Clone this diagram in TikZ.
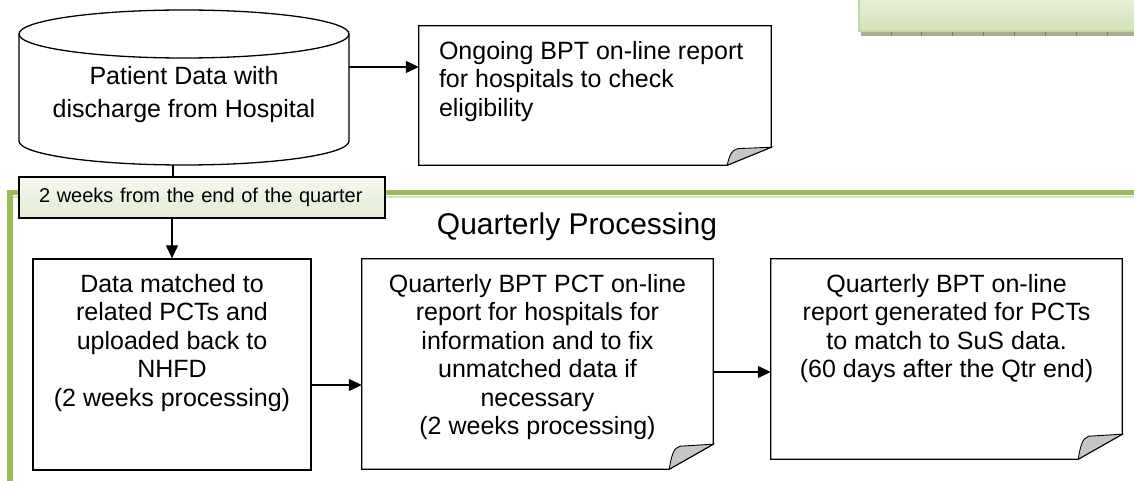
\documentclass[tikz,border=0pt]{standalone}
\usepackage{fontspec}
\setmainfont{Liberation Sans}
\usetikzlibrary{arrows.meta, calc}

\definecolor{framegreen}{HTML}{9BBB59}
\definecolor{framelight}{HTML}{D7E4BD}
\definecolor{foldgray}{HTML}{C6C6C6}
\definecolor{tagtop}{HTML}{F5F9EF}
\definecolor{tagbottom}{HTML}{E3EBD4}
\definecolor{bartop}{HTML}{E6EED8}
\definecolor{barbottom}{HTML}{D3E1BA}
\definecolor{baredge}{HTML}{C4D79E}
\definecolor{railgray}{HTML}{A8B094}
\definecolor{railtick}{HTML}{77835F}

% text block of a card: width, height, alignment, lines
\newcommand{\cardtext}[4]{\parbox[c][#2][t]{#1}{#3\relax\vspace*{15pt}#4}}

% outline of a report sheet with its folded corner
\newcommand{\docframe}[3]{%
  \draw[outline] (#1.north west) -- (#1.north east) -- ([yshift=#3]#1.south east)
    -- ([xshift=-#2]#1.south east) -- (#1.south west) -- cycle;
  \filldraw[outline, fill=foldgray, line width=0.9pt] ([xshift=-#2]#1.south east)
    .. controls ([xshift=-0.95*#2, yshift=0.55*#3]#1.south east) and ([xshift=-0.9*#2, yshift=0.85*#3]#1.south east)
    .. ([xshift=-0.76*#2, yshift=0.92*#3]#1.south east) -- ([yshift=#3]#1.south east) -- cycle;
}

\begin{document}
\begin{tikzpicture}[x=1pt, y=-1pt,
  outline/.style={draw=black, line width=1.3pt},
  link/.style={draw=black, line width=1.2pt},
  arrow/.style={link, -{Triangle[length=13pt, width=12pt]}},
  card/.style={inner sep=0pt, font=\fontsize{25}{28.5}\selectfont},
  tag/.style={outline, top color=tagtop, bottom color=tagbottom, minimum height=41pt,
    text width=326pt, inner xsep=20pt, inner ysep=0pt, align=left, font=\fontsize{20}{24}\selectfont},
  heading/.style={font=\fontsize{30}{36}\selectfont},
]
\useasboundingbox (0,0) rectangle (1134,481);

% header bar, top right
\shade[top color=bartop, bottom color=barbottom] (858,0) rectangle (1134,32);
\draw[baredge, line width=2pt] (859,0) -- (859,32);
\draw[baredge, line width=1.5pt] (859,31) -- (1134,31);
\fill[railgray] (861,32) rectangle (1134,36);
\foreach \i in {0,...,7}
  \draw[railtick, line width=1pt] (891+30.9*\i,32) -- (891+30.9*\i,36);

% quarterly frame
\draw[framelight, line width=2pt] (13,196.5) -- (1134,196.5);
\draw[framegreen, line width=5.5pt] (10,481) -- (10,192.5) -- (1134,192.5);

% patient data store
\draw[outline, fill=white] (19,34) -- (19,141)
  arc[start angle=180, end angle=360, x radius=165pt, y radius=24pt] -- (349,34)
  arc[start angle=0, end angle=180, x radius=165pt, y radius=24pt] -- cycle;
\draw[outline] (19,34) arc[start angle=180, end angle=360, x radius=165pt, y radius=24pt];
\node[card, font=\fontsize{25}{33}\selectfont, align=center] (patient) at (184,95)
  {Patient Data with\\discharge from Hospital};
\coordinate (cylside) at (349,67);
\coordinate (cylbase) at (173,165);

% ongoing report
\node[card] (ongoing) at (595,95.5)
  {\cardtext{352pt}{139pt}{\raggedright\leftskip=20pt}{Ongoing BPT on-line report\\for hospitals to check\\eligibility}};
\docframe{ongoing}{44pt}{18pt}

% quarterly steps
\node[tag] (weeks) at (202,197.5) {2 weeks from the end of the quarter};
\node[heading, anchor=base] (quarterly) at (577,234) {Quarterly Processing};

\node[card, outline] (matched) at (172,364.5)
  {\cardtext{278pt}{211pt}{\centering}{Data matched to\\related PCTs and\\uploaded back to\\NHFD\\(2 weeks processing)}};
\node[card] (pctreport) at (537.5,364)
  {\cardtext{351pt}{210pt}{\centering}{Quarterly BPT PCT on-line\\report for hospitals for\\information and to fix\\unmatched data if\\necessary\\(2 weeks processing)}};
\docframe{pctreport}{44pt}{25pt}
\node[card] (susreport) at (946.5,359)
  {\cardtext{351pt}{200pt}{\centering}{Quarterly BPT on-line\\report generated for PCTs\\to match to SuS data.\\(60 days after the Qtr end)}};
\docframe{susreport}{44pt}{25pt}

% connectors
\draw[arrow] (cylside) -- (cylside -| ongoing.west);
\draw[link] (cylbase) -- (cylbase |- weeks.north);
\draw[arrow] (weeks.south -| matched.north) -- (matched.north);
\draw[arrow] ([yshift=-20.5pt]matched.east) -- ([yshift=-20.5pt]matched.east -| pctreport.west);
\draw[arrow] ([yshift=-8pt]pctreport.east) -- ([yshift=-8pt]pctreport.east -| susreport.west);
\end{tikzpicture}
\end{document}
